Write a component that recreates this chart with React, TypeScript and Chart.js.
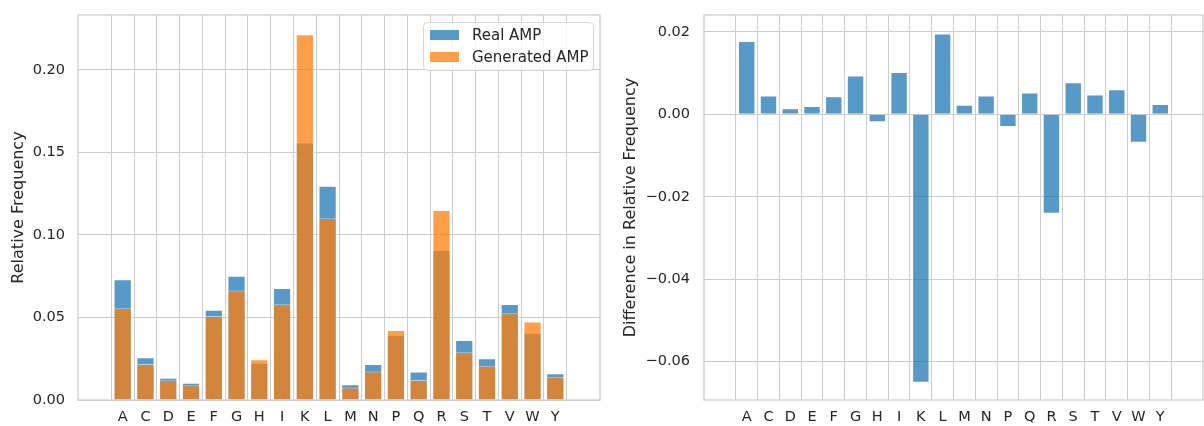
import React, { useEffect, useRef } from "react";
import { Chart, registerables } from "chart.js";

Chart.register(...registerables);

const letters = ["A", "C", "D", "E", "F", "G", "H", "I", "K", "L", "M", "N", "P", "Q", "R", "S", "T", "V", "W", "Y"];
const realAMP = [0.0731, 0.0259, 0.0135, 0.0105, 0.0547, 0.0753, 0.0226, 0.0679, 0.156, 0.1299, 0.0095, 0.0218, 0.0394, 0.0172, 0.0909, 0.0364, 0.0253, 0.0582, 0.0408, 0.0162];
const generatedAMP = [0.0556, 0.0218, 0.0119, 0.0089, 0.0509, 0.0663, 0.0247, 0.058, 0.2216, 0.1101, 0.0075, 0.0172, 0.0424, 0.0121, 0.1152, 0.0289, 0.0208, 0.0525, 0.0475, 0.0141];
const diffFreq = [0.0178, 0.0046, 0.0015, 0.002, 0.0044, 0.0094, -0.0019, 0.0103, -0.0651, 0.0196, 0.0023, 0.0046, -0.0031, 0.0053, -0.0241, 0.0078, 0.0048, 0.0061, -0.0069, 0.0025];
const leftTitle = "Relative Frequency";
const rightTitle = "Difference in Relative Frequency";
const seriesNames = ["Real AMP", "Generated AMP"];

const FONT = "'DejaVu Sans', 'Liberation Sans', sans-serif";
const TEXT = "#262626";
const GRID = "#cccccc";
const BLUE = "rgba(31,119,180,0.75)";
const ORANGE = "rgba(255,127,14,0.75)";
const EDGE = "rgba(255,255,255,0.55)";
const FS = 14.5;
const TITLE_FS = 16;
const LEGEND_FS = 15;

const toPoints = (vals: number[]) => vals.map((v, i) => ({ x: i, y: v }));

const framePlugin = {
  id: "frame",
  afterDatasetsDraw(chart: any) {
    const { ctx, chartArea } = chart;
    ctx.save();
    ctx.strokeStyle = GRID;
    ctx.lineWidth = 1.25;
    ctx.strokeRect(chartArea.left, chartArea.top, chartArea.right - chartArea.left, chartArea.bottom - chartArea.top);
    ctx.restore();
  },
};

const legendPlugin = {
  id: "boxLegend",
  afterDraw(chart: any) {
    const { ctx, chartArea } = chart;
    const w = 170;
    const h = 48;
    const x = chartArea.right - 7 - w;
    const y = chartArea.top + 7;
    ctx.save();
    ctx.beginPath();
    (ctx as any).roundRect(x + 0.5, y + 0.5, w, h, 4);
    ctx.fillStyle = "rgba(255,255,255,0.8)";
    ctx.fill();
    ctx.strokeStyle = "rgba(204,204,204,0.8)";
    ctx.lineWidth = 1;
    ctx.stroke();
    const ds = chart.data.datasets;
    ds.forEach((d: any, i: number) => {
      const cy = y + 13 + i * 22;
      ctx.fillStyle = d.backgroundColor;
      ctx.fillRect(x + 7, cy - 5, 29, 10);
      ctx.fillStyle = TEXT;
      ctx.font = `${LEGEND_FS}px ${FONT}`;
      ctx.textBaseline = "middle";
      ctx.textAlign = "left";
      ctx.fillText(d.label, x + 49, cy + 1);
    });
    ctx.restore();
  },
};

const xScale = (n: number) => ({
  type: "linear" as const,
  min: -1.39,
  max: n - 1 + 1.39,
  afterBuildTicks: (s: any) => {
    s.ticks = letters.map((_, i) => ({ value: i }));
  },
  afterFit: (s: any) => {
    s.height = 26;
    s.paddingLeft = 0;
    s.paddingRight = 0;
  },
  grid: { color: GRID, lineWidth: 1, drawTicks: false },
  border: { display: false },
  ticks: {
    padding: 9,
    color: TEXT,
    font: { family: FONT, size: FS },
    autoSkip: false,
    maxRotation: 0,
    callback: (v: any) => letters[Math.round(v)] ?? "",
  },
});

const fmt = (v: number) => {
  if (Math.abs(v) < 1e-9) return "0.00";
  return (v < 0 ? "\u2212" : "") + Math.abs(v).toFixed(2);
};

function LeftChart() {
  const ref = useRef<HTMLCanvasElement>(null);
  useEffect(() => {
    const chart = new Chart(ref.current!, {
      type: "bar",
      data: {
        datasets: [
          {
            label: seriesNames[0],
            data: toPoints(realAMP),
            backgroundColor: BLUE,
            borderColor: EDGE,
            borderWidth: 1,
            grouped: false,
            order: 2,
            categoryPercentage: 1,
            barPercentage: 0.8,
          } as any,
          {
            label: seriesNames[1],
            data: toPoints(generatedAMP),
            backgroundColor: ORANGE,
            borderColor: EDGE,
            borderWidth: 1,
            grouped: false,
            order: 1,
            categoryPercentage: 1,
            barPercentage: 0.8,
          } as any,
        ],
      },
      options: {
        responsive: false,
        animation: false,
        layout: { padding: { top: 15, right: 20, left: 0, bottom: 0 } },
        plugins: { legend: { display: false }, tooltip: { enabled: false } },
        scales: {
          x: xScale(letters.length),
          y: {
            min: 0,
            max: 0.2333,
            afterFit: (s: any) => {
              s.width = 78;
              s.paddingTop = 0;
              s.paddingBottom = 0;
            },
            grid: { color: GRID, lineWidth: 1, drawTicks: false },
            border: { display: false },
            title: {
              display: true,
              text: leftTitle,
              color: TEXT,
              font: { family: FONT, size: TITLE_FS },
              padding: { top: 9, bottom: 0 },
            },
            ticks: {
              stepSize: 0.05,
              includeBounds: false,
              padding: 13,
              color: TEXT,
              font: { family: FONT, size: FS },
              callback: (v: any) => fmt(Number(v)),
            },
          } as any,
        },
      },
      plugins: [framePlugin, legendPlugin],
    });
    return () => chart.destroy();
  }, []);
  return <canvas ref={ref} width={620} height={426} style={{ position: "absolute", left: 0, top: 0, display: "block" }} />;
}

function RightChart() {
  const ref = useRef<HTMLCanvasElement>(null);
  useEffect(() => {
    const chart = new Chart(ref.current!, {
      type: "bar",
      data: {
        datasets: [
          {
            label: rightTitle,
            data: toPoints(diffFreq),
            backgroundColor: BLUE,
            borderColor: EDGE,
            borderWidth: 1,
            categoryPercentage: 1,
            barPercentage: 0.8,
          } as any,
        ],
      },
      options: {
        responsive: false,
        animation: false,
        layout: { padding: { top: 15, right: 1, left: 0, bottom: 0 } },
        plugins: { legend: { display: false }, tooltip: { enabled: false } },
        scales: {
          x: xScale(letters.length),
          y: {
            min: -0.0693,
            max: 0.0241,
            afterFit: (s: any) => {
              s.width = 94;
              s.paddingTop = 0;
              s.paddingBottom = 0;
            },
            grid: { color: GRID, lineWidth: 1, drawTicks: false },
            border: { display: false },
            title: {
              display: true,
              text: rightTitle,
              color: TEXT,
              font: { family: FONT, size: TITLE_FS },
              padding: { top: 11, bottom: 0 },
            },
            ticks: {
              stepSize: 0.02,
              includeBounds: false,
              padding: 14,
              color: TEXT,
              font: { family: FONT, size: FS },
              callback: (v: any) => fmt(Number(v)),
            },
          } as any,
        },
      },
      plugins: [framePlugin],
    });
    return () => chart.destroy();
  }, []);
  return <canvas ref={ref} width={594} height={426} style={{ position: "absolute", left: 610, top: 0, display: "block" }} />;
}

export default function App() {
  return (
    <div style={{ position: "absolute", left: 0, top: 0, width: 1204, height: 426, background: "#ffffff", overflow: "hidden" }}>
      <LeftChart />
      <RightChart />
    </div>
  );
}
